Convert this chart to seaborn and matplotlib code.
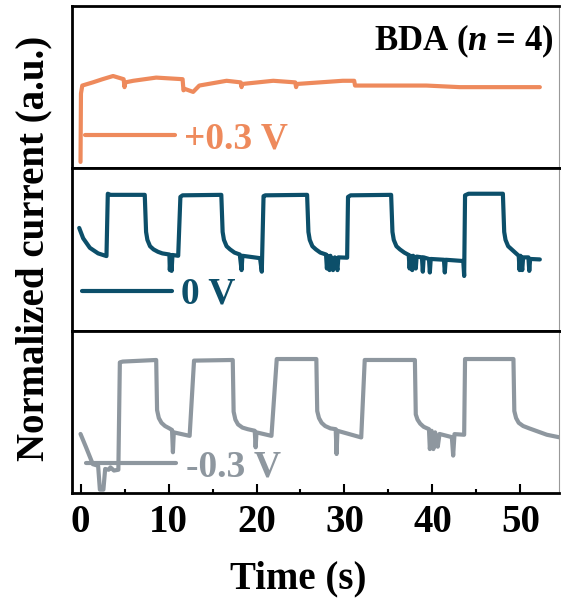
import matplotlib
matplotlib.use("Agg")
import matplotlib.pyplot as plt
from matplotlib.ticker import MultipleLocator
import seaborn as sns

# +0.3 V trace (orange)
t_pos = [0.0, 0.05, 0.2, 1.4, 2.5, 3.7, 4.3, 4.9, 5.0, 5.1, 6.0, 8.6, 11.6, 11.7, 11.8,
         12.3, 12.8, 13.5, 16.6, 18.2, 18.3, 18.4, 21.9, 24.4, 24.5, 24.6, 29.8, 31.1,
         31.2, 35.5, 39.3, 43.1, 52.2]
v_pos = [0.02, 0.45, 0.50, 0.52, 0.54, 0.56, 0.55, 0.54, 0.49, 0.52, 0.53, 0.55, 0.54,
         0.47, 0.48, 0.47, 0.46, 0.50, 0.53, 0.52, 0.49, 0.51, 0.53, 0.52, 0.49, 0.51,
         0.53, 0.53, 0.50, 0.50, 0.50, 0.49, 0.49]

# 0 V trace (teal)
t_zero = [-0.15, 0.3, 1.06, 2.0, 2.95, 3.1, 3.4, 7.3,
          7.45, 7.6, 7.9, 8.3, 8.8, 9.3, 10.1,
          10.15, 10.25, 10.35, 10.45, 11.1, 11.35, 11.6, 16.0,
          16.15, 16.3, 16.6, 17.0, 17.5, 18.1,
          18.3, 18.4, 20.4, 20.6, 20.8, 21.0, 25.75,
          25.9, 26.05, 26.35, 26.75, 27.25, 27.9,
          28.0, 28.1, 28.3, 28.4, 28.7, 28.9, 29.2, 29.3, 30.3, 30.4, 30.7, 35.3,
          35.45, 35.6, 35.9, 36.3, 36.8, 37.3,
          37.4, 37.5, 37.7, 37.8, 38.1, 38.2, 38.8, 38.9, 39.0, 39.6, 39.7, 39.8,
          41.3, 41.4, 41.5, 43.5, 43.6, 43.7, 44.1, 48.0,
          48.15, 48.3, 48.6, 49.0, 49.4, 49.8,
          49.9, 50.0, 50.2, 50.3, 50.9, 51.0, 51.1, 52.2]
v_zero = [0.625, 0.56, 0.50, 0.465, 0.448, 0.84, 0.833, 0.833,
          0.60, 0.55, 0.51, 0.49, 0.475, 0.465, 0.458,
          0.36, 0.455, 0.355, 0.455, 0.45, 0.82, 0.83, 0.833,
          0.60, 0.55, 0.51, 0.49, 0.47, 0.458,
          0.36, 0.45, 0.435, 0.35, 0.825, 0.83, 0.833,
          0.60, 0.55, 0.51, 0.49, 0.47, 0.458,
          0.37, 0.45, 0.36, 0.45, 0.36, 0.44, 0.36, 0.44, 0.438, 0.82, 0.83, 0.833,
          0.60, 0.55, 0.51, 0.49, 0.47, 0.455,
          0.37, 0.45, 0.36, 0.45, 0.37, 0.445, 0.44, 0.35, 0.44, 0.43, 0.345, 0.43,
          0.425, 0.345, 0.425, 0.417, 0.323, 0.83, 0.84, 0.84,
          0.60, 0.55, 0.51, 0.49, 0.47, 0.45,
          0.36, 0.45, 0.36, 0.44, 0.44, 0.355, 0.43, 0.427]

# -0.3 V trace (grey)
t_neg = [0.0, 0.6, 1.4, 2.0, 2.2, 2.6, 2.8, 3.2, 3.4, 3.8, 4.3, 4.47, 4.8, 8.6,
         8.7, 8.9, 9.2, 9.6, 10.1, 10.4, 10.5, 10.6, 12.4, 12.9, 17.3,
         17.4, 17.6, 17.9, 18.4, 19.0, 19.8, 19.9, 20.0, 21.7, 22.3, 26.8,
         26.9, 27.1, 27.4, 27.8, 28.4, 29.0, 29.1, 29.2, 31.9, 32.3, 38.0,
         38.1, 38.3, 38.6, 39.0, 39.6, 39.7, 39.9, 40.1, 40.3, 40.6, 40.8,
         42.2, 42.35, 42.5, 43.6, 43.7, 49.2,
         49.3, 49.5, 49.8, 50.3, 51.0, 52.0, 53.0, 54.5]
v_neg = [0.35, 0.27, 0.16, 0.15, 0.0, 0.0, 0.13, 0.125, 0.14, 0.12, 0.125, 0.80, 0.805, 0.815,
         0.50, 0.45, 0.42, 0.40, 0.385, 0.375, 0.235, 0.36, 0.338, 0.811, 0.815,
         0.49, 0.44, 0.41, 0.39, 0.38, 0.37, 0.266, 0.36, 0.338, 0.821, 0.821,
         0.494, 0.45, 0.42, 0.40, 0.385, 0.38, 0.224, 0.37, 0.328, 0.815, 0.815,
         0.473, 0.44, 0.415, 0.395, 0.38, 0.255, 0.37, 0.255, 0.36, 0.27, 0.35,
         0.33, 0.214, 0.349, 0.345, 0.821, 0.821,
         0.494, 0.45, 0.42, 0.40, 0.385, 0.365, 0.345, 0.328]

series = [
    (t_pos, v_pos, "+0.3 V", "#EE8A5C", (0.027, 0.18)),
    (t_zero, v_zero, "0 V", "#0C4F6A", (0.020, 0.224)),
    (t_neg, v_neg, "-0.3 V", "#8E979F", (0.030, 0.16)),
]

sns.set_style("white")
plt.rcParams["font.family"] = ["Liberation Serif", "DejaVu Serif"]
plt.rcParams["font.weight"] = "bold"
plt.rcParams["text.color"] = "black"
plt.rcParams["axes.labelcolor"] = "black"
plt.rcParams["xtick.color"] = "black"
plt.rcParams["mathtext.fontset"] = "custom"
plt.rcParams["mathtext.it"] = "Liberation Serif:italic:bold"
plt.rcParams["mathtext.rm"] = "Liberation Serif:bold"

fig, axes = plt.subplots(3, 1, figsize=(5.61, 6.01), dpi=100, sharex=True)
fig.subplots_adjust(left=0.128, right=0.996, top=0.99, bottom=0.18, hspace=0)

for ax, (t, v, lab, col, anchor) in zip(axes, series):
    sns.lineplot(x=t, y=v, estimator=None, sort=False, color=col, lw=3, label=lab, ax=ax)
    ax.set_ylim(-0.02, 1.0)
    ax.set_yticks([])
    ax.set_ylabel("")
    for s in ["top", "bottom", "left"]:
        ax.spines[s].set_linewidth(2)
        ax.spines[s].set_color("black")
    ax.spines["right"].set_linewidth(0.8)
    ax.spines["right"].set_color("#999999")
    ax.legend(loc="center left", bbox_to_anchor=anchor, frameon=False,
              labelcolor="linecolor", handlelength=2.4, handletextpad=0.25,
              borderpad=0, borderaxespad=0, prop={"size": 27, "weight": "bold"})
    ax.tick_params(axis="x", which="both", bottom=False, labelbottom=False)

ax = axes[-1]
ax.set_xlim(-0.99, 54.35)
ax.xaxis.set_major_locator(MultipleLocator(10))
ax.xaxis.set_minor_locator(MultipleLocator(5))
ax.tick_params(axis="x", which="major", bottom=True, labelbottom=True, direction="in",
               length=6.5, width=1.5, pad=8, labelsize=28, colors="black")
ax.tick_params(axis="x", which="minor", bottom=True, direction="in", length=3, width=1.5,
               colors="black")
ax.set_xticks([0, 10, 20, 30, 40, 50])
ax.set_xticklabels(["0", "10", "20", "30", "40", "50"], fontweight="bold")
ax.set_xlabel("Time (s)", fontsize=28, fontweight="bold", x=0.464, labelpad=14,
              color="black")

axes[0].text(0.99, 0.78, "BDA ($n$ = 4)", transform=axes[0].transAxes, ha="right",
             va="center", fontsize=25, fontweight="bold", color="black")

fig.text(0.06, 0.587, "Normalized current (a.u.)", rotation=90, ha="center",
         va="center", fontsize=28, fontweight="bold", color="black")

fig.savefig("out.png", dpi=100)
